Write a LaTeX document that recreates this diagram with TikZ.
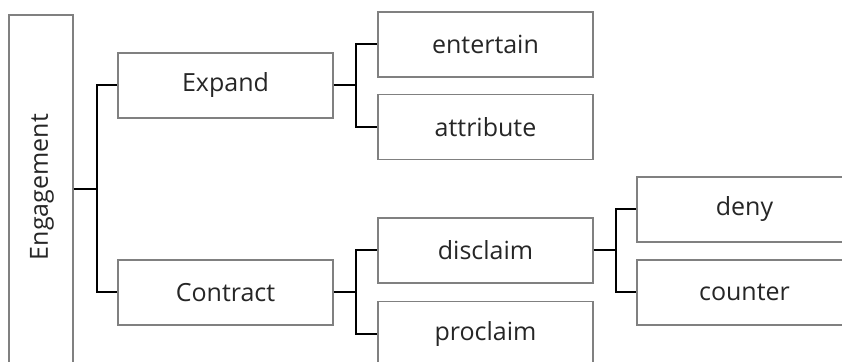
\documentclass[tikz,border=0pt]{standalone}
\usepackage{fontspec}
\setmainfont{Open Sans}
\begin{document}
\begin{tikzpicture}[x=1pt,y=1pt,
  box/.style={draw=black!50, line width=1.3pt, fill=white, inner sep=0pt,
    minimum width=215pt, minimum height=65pt, text=black!85,
    font=\fontsize{25}{29}\selectfont},
  conn/.style={draw=black, line width=2pt}]
\useasboundingbox (0,0) rectangle (842,361);
\clip (0,0) rectangle (842,361);
\node[box, minimum width=64pt, minimum height=348pt] (eng) at (41,172) {};
\node[rotate=90, inner sep=0pt, text=black!85, font=\fontsize{25}{29}\selectfont] (engtxt) at (42,174) {Engagement};
\node[box] (expand) at (225.5,275.5) {Expand};
\node[box] (contract) at (225.5,68.5) {Contract};
\node[box] (entertain) at (485.5,316.5) {entertain};
\node[box] (attribute) at (485.5,234) {attribute};
\node[box] (disclaim) at (485.5,110.5) {disclaim};
\node[box] (proclaim) at (485.5,27) {proclaim};
\node[box] (deny) at (744.5,151.5) {deny};
\node[box] (counter) at (744.5,68.5) {counter};
\draw[conn] (eng.east) -- ++(23,0) coordinate (f1) |- (expand.west);
\draw[conn] (f1) |- (contract.west);
\draw[conn] (expand.east) -- ++(22,0) coordinate (f2) |- (entertain.west);
\draw[conn] (f2) |- (attribute.west);
\draw[conn] (contract.east) -- ++(22,0) coordinate (f3) |- (disclaim.west);
\draw[conn] (f3) |- (proclaim.west);
\draw[conn] (disclaim.east) -- ++(22,0) coordinate (f4) |- (deny.west);
\draw[conn] (f4) |- (counter.west);
\end{tikzpicture}
\end{document}
